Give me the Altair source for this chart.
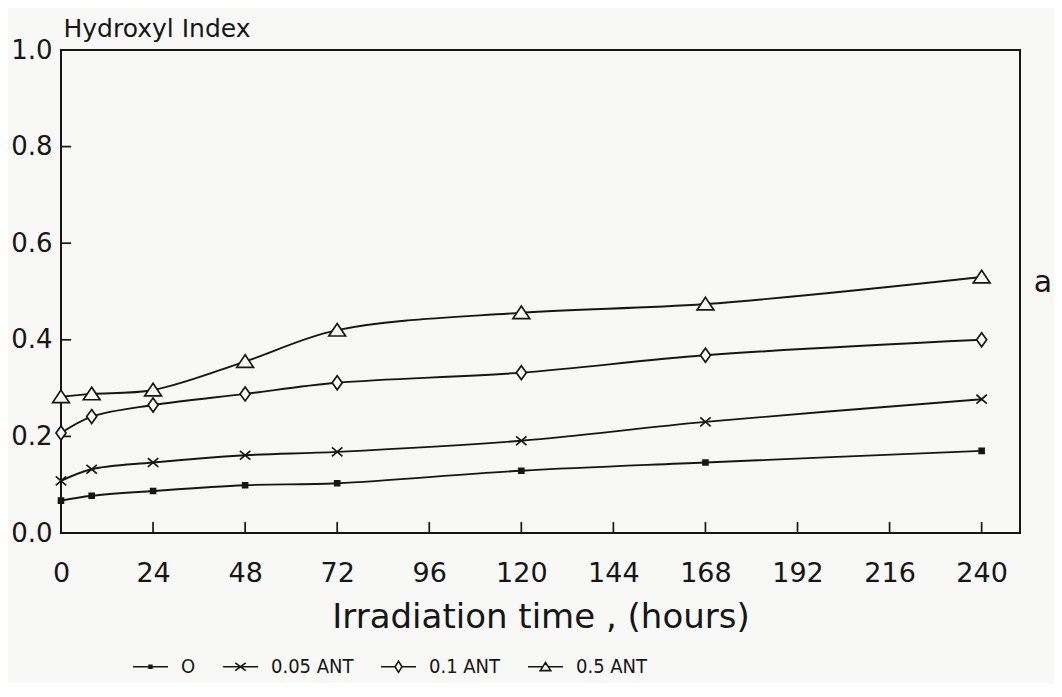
import altair as alt
import pandas as pd

# ---- data ----
hours = [0, 8, 24, 48, 72, 120, 168, 240]
s_0 = [0.067, 0.077, 0.087, 0.099, 0.103, 0.129, 0.146, 0.170]
s_005 = [0.108, 0.132, 0.146, 0.161, 0.168, 0.191, 0.230, 0.277]
s_01 = [0.207, 0.241, 0.265, 0.288, 0.311, 0.332, 0.368, 0.400]
s_05 = [0.282, 0.288, 0.296, 0.355, 0.420, 0.456, 0.474, 0.530]
series_names = ["O", "0.05 ANT", "0.1 ANT", "0.5 ANT"]
x_tick_values = [0, 24, 48, 72, 96, 120, 144, 168, 192, 216, 240]
x_inner_ticks = [24, 48, 72, 96, 120, 144, 168, 192, 216, 240]
y_tick_values = [0.0, 0.2, 0.4, 0.6, 0.8, 1.0]
y_inner_ticks = [0.2, 0.4, 0.6, 0.8]

rows = []
for name, vals in zip(series_names, [s_0, s_005, s_01, s_05]):
    for h, v in zip(hours, vals):
        rows.append({"hours": h, "value": v, "series": name})
df = pd.DataFrame(rows)

BG = "#f8f8f6"
INK = "#161616"
FONT = "DejaVu Sans"
LEG_FONT = "Liberation Sans Narrow, DejaVu Sans Condensed, sans-serif"

point_paths = [
    "square",
    "M-1,-0.85L1,0.85M-1,0.85L1,-0.85",
    "M0,-1L0.72,0L0,1L-0.72,0Z",
    "M0,-0.8L1,0.7L-1,0.7Z",
]
point_fills = [INK, BG, BG, BG]
legend_paths = [
    "M-1,0H1M-0.08,-0.08H0.08V0.08H-0.08Z",
    "M-1,0H1M-0.3,-0.22L0.3,0.22M-0.3,0.22L0.3,-0.22",
    "M-1,0H-0.2M0.2,0H1M0,-0.32L0.2,0L0,0.32L-0.2,0Z",
    "M-1,0H-0.15M0.15,0H1M0,-0.24L0.3,0.22L-0.3,0.22Z",
]

x_scale = alt.Scale(domain=[0, 250], nice=False)
y_scale = alt.Scale(domain=[0, 1], nice=False)

x_axis = alt.Axis(
    values=x_tick_values, ticks=False, tickSize=0, domain=False, grid=False,
    labelFlush=False,
    labelFont=FONT, labelFontSize=27, labelColor=INK, labelPadding=27,
    title="Irradiation time , (hours)", titleFont=FONT, titleFontSize=34,
    titleFontWeight="normal", titleColor=INK, titleX=479.5, titleY=94,
    titleAlign="center", titleBaseline="alphabetic",
)
y_axis = alt.Axis(
    values=y_tick_values, format=".1f", ticks=False, tickSize=0, domain=False,
    grid=False, labelFlush=False, labelFont=FONT, labelFontSize=26, labelColor=INK,
    labelPadding=9, labelBaseline="middle",
    title="Hydroxyl Index", titleFont=FONT, titleFontSize=25,
    titleFontWeight="normal", titleColor=INK, titleAngle=0, titleX=2,
    titleY=-14, titleAlign="left", titleBaseline="alphabetic",
)

lines = alt.Chart(df).mark_line(
    interpolate="catmull-rom", strokeWidth=1.9, color=INK
).encode(
    x=alt.X("hours:Q", scale=x_scale, axis=x_axis),
    y=alt.Y("value:Q", scale=y_scale, axis=y_axis),
    detail="series:N",
)

points = alt.Chart(df).mark_point(strokeWidth=1.7, opacity=1, fillOpacity=1).encode(
    x=alt.X("hours:Q", scale=x_scale),
    y=alt.Y("value:Q", scale=y_scale),
    shape=alt.Shape("series:N", scale=alt.Scale(domain=series_names, range=point_paths), legend=None),
    fill=alt.Fill("series:N", scale=alt.Scale(domain=series_names, range=point_fills), legend=None),
    size=alt.Size("series:N", scale=alt.Scale(domain=series_names, range=[24, 280, 420, 330]), legend=None),
    stroke=alt.value(INK),
)

legend_layer = alt.Chart(df).mark_point(opacity=0, filled=False, strokeWidth=1.6, color=INK).encode(
    x=alt.X("hours:Q", scale=x_scale),
    y=alt.Y("value:Q", scale=y_scale),
    shape=alt.Shape(
        "series:N",
        scale=alt.Scale(domain=series_names, range=legend_paths),
        legend=alt.Legend(
            orient="none", legendX=71, legendY=598, direction="horizontal",
            title=None, symbolSize=1225, symbolStrokeWidth=1.6,
            symbolStrokeColor=INK, symbolFillColor="transparent",
            symbolOpacity=1, labelFont=LEG_FONT, labelFontSize=20,
            labelColor=INK, labelOffset=12, columnPadding=23, padding=0,
        ),
    ),
)

xt = alt.Chart(pd.DataFrame({"hours": x_inner_ticks})).mark_rule(
    color=INK, strokeWidth=1.7
).encode(
    x=alt.X("hours:Q", scale=x_scale),
    y=alt.value(483),
    y2=alt.value(472),
)
yt = alt.Chart(pd.DataFrame({"value": y_inner_ticks})).mark_rule(
    color=INK, strokeWidth=1.7
).encode(
    y=alt.Y("value:Q", scale=y_scale),
    x=alt.value(0),
    x2=alt.value(10),
)

panel_label = alt.Chart(pd.DataFrame({"lab": ["a"]})).mark_text(
    font=FONT, fontSize=30, color=INK, align="center", baseline="middle"
).encode(
    text="lab:N",
    x=alt.value(982),
    y=alt.value(233),
)

chart = alt.layer(lines, xt, yt, points, legend_layer, panel_label).resolve_scale(
    shape="independent", fill="independent", size="independent"
).properties(
    width=959,
    height=483,
    padding={"left": 53, "top": 42, "right": 34, "bottom": 150},
    autosize=alt.AutoSizeParams(type="none"),
    background=BG,
).configure_view(
    stroke=INK, strokeWidth=2, fill=BG
)

chart.save("out.html", embed_options={"renderer": "svg", "actions": False})
